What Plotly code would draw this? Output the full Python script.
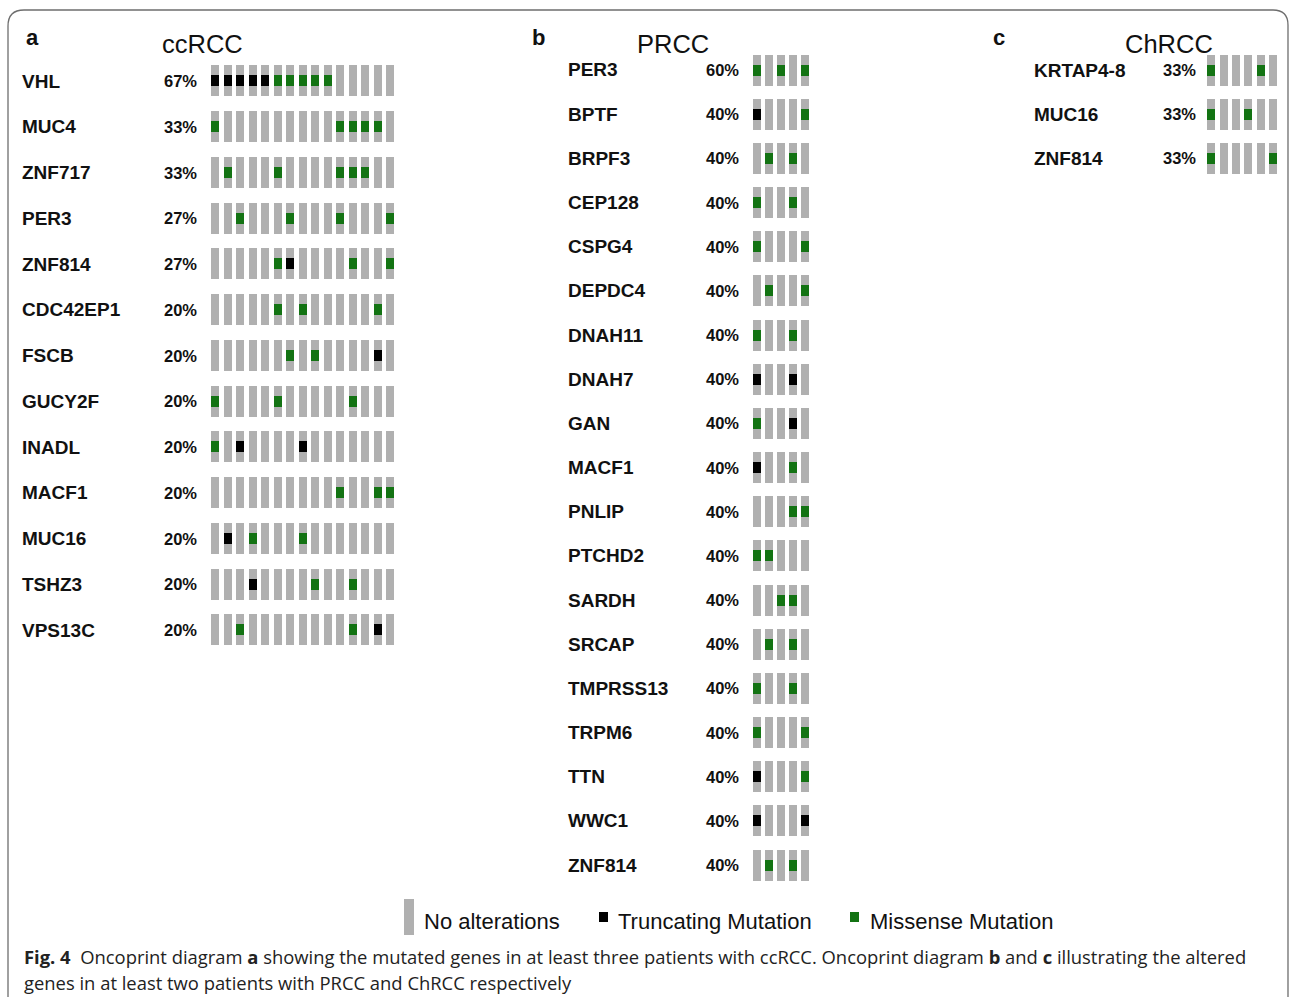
import plotly.graph_objects as go

W, H = 1289, 997

# ---- alteration codes per gene: '.' none, 'T' truncating, 'M' missense ----
cc_genes = ["VHL", "MUC4", "ZNF717", "PER3", "ZNF814", "CDC42EP1", "FSCB",
            "GUCY2F", "INADL", "MACF1", "MUC16", "TSHZ3", "VPS13C"]
cc_calls = [
    "TTTTTMMMMM.....",
    "M.........MMMM.",
    ".M...M....MMM..",
    "..M...M...M...M",
    ".....MT....M..M",
    ".....M.M.....M.",
    "......M.M....T.",
    "M....M.....M...",
    "M.T....T.......",
    "..........M..MM",
    ".T.M...M.......",
    "...T....M..M...",
    "..M........M.T.",
]

pr_genes = ["PER3", "BPTF", "BRPF3", "CEP128", "CSPG4", "DEPDC4", "DNAH11",
            "DNAH7", "GAN", "MACF1", "PNLIP", "PTCHD2", "SARDH", "SRCAP",
            "TMPRSS13", "TRPM6", "TTN", "WWC1", "ZNF814"]
pr_calls = [
    "M.M.M",
    "T...M",
    ".M.M.",
    "M..M.",
    "M...M",
    ".M..M",
    "M..M.",
    "T..T.",
    "M..T.",
    "T..M.",
    "...MM",
    "MM...",
    "..MM.",
    ".M.M.",
    "M..M.",
    "M...M",
    "T...M",
    "T...T",
    ".M.M.",
]

ch_genes = ["KRTAP4-8", "MUC16", "ZNF814"]
ch_calls = [
    "M...M.",
    "M..M..",
    "M....M",
]

panel_titles = ["ccRCC", "PRCC", "ChRCC"]
panel_letters = ["a", "b", "c"]
legend_labels = ["No alterations", "Truncating Mutation", "Missense Mutation"]

GRAY = "#b0b0b0"
BLACK = "#000000"
GREEN = "#137313"

# layout geometry of each panel, in page pixels
panels = [
    dict(genes=cc_genes, calls=cc_calls, c0=215.0, dc=12.5, r0=81.0, dr=45.75,
         gene_x=20, pct_x=199, title_x=202, letter_x=32),
    dict(genes=pr_genes, calls=pr_calls, c0=757.3, dc=12.1, r0=70.0, dr=44.17,
         gene_x=566, pct_x=741, title_x=673, letter_x=538),
    dict(genes=ch_genes, calls=ch_calls, c0=1211.0, dc=12.4, r0=70.0, dr=44.0,
         gene_x=1032, pct_x=1198, title_x=1169, letter_x=999),
]

fig = go.Figure()
annotations = []
layout_axes = {}

GENE_FONT = dict(family="Liberation Sans, Arial, sans-serif", size=19, color="#111111")
PCT_FONT = dict(family="Liberation Sans, Arial, sans-serif", size=16.5, color="#111111")

for k, p in enumerate(panels):
    n_cols = len(p["calls"][0])
    n_rows = len(p["genes"])
    suffix = "" if k == 0 else str(k + 1)
    xa, ya = "x" + suffix, "y" + suffix

    left = p["c0"] - p["dc"] / 2
    right = p["c0"] + (n_cols - 0.5) * p["dc"]
    top = p["r0"] - p["dr"] / 2
    bottom = p["r0"] + (n_rows - 0.5) * p["dr"]

    layout_axes["xaxis" + suffix] = dict(
        domain=[left / W, right / W], range=[-0.5, n_cols - 0.5],
        visible=False, fixedrange=True, anchor=ya)
    layout_axes["yaxis" + suffix] = dict(
        domain=[1 - bottom / H, 1 - top / H], range=[n_rows - 0.5, -0.5],
        visible=False, fixedrange=True, anchor=xa)

    bar_w = 8.0 / p["dc"]
    cell_h = 31.0 / p["dr"]
    mark_h = 11.0 / p["dr"]

    # background cells: one gray column per patient and gene
    gx, gbase = [], []
    for r in range(n_rows):
        for c in range(n_cols):
            gx.append(c)
            gbase.append(r - cell_h / 2)
    fig.add_trace(go.Bar(x=gx, y=[cell_h] * len(gx), base=gbase, width=bar_w,
                         marker=dict(color=GRAY, line_width=0),
                         xaxis=xa, yaxis=ya, showlegend=False, hoverinfo="skip"))

    for code, colour in (("T", BLACK), ("M", GREEN)):
        mx, mbase = [], []
        for r, s in enumerate(p["calls"]):
            for c, ch in enumerate(s):
                if ch == code:
                    mx.append(c)
                    mbase.append(r - mark_h / 2)
        if mx:
            fig.add_trace(go.Bar(x=mx, y=[mark_h] * len(mx), base=mbase, width=bar_w,
                                 marker=dict(color=colour, line_width=0),
                                 xaxis=xa, yaxis=ya, showlegend=False))

    # gene names and alteration frequencies
    for r, (g, s) in enumerate(zip(p["genes"], p["calls"])):
        altered = sum(1 for ch in s if ch != ".")
        pct = round(100 * altered / n_cols)
        annotations.append(dict(text=f"<b>{g}</b>", xref="paper", yref=ya, x=p["gene_x"] / W,
                                y=r, xanchor="left", yanchor="middle", showarrow=False,
                                font=GENE_FONT))
        annotations.append(dict(text=f"<b>{pct}%</b>", xref="paper", yref=ya, x=p["pct_x"] / W,
                                y=r, xanchor="right", yanchor="middle", showarrow=False,
                                font=PCT_FONT))

    # panel letter and title
    annotations.append(dict(text=f"<b>{panel_letters[k]}</b>", xref="paper", yref="paper",
                            x=p["letter_x"] / W, y=1 - 38 / H, xanchor="center", yanchor="middle",
                            showarrow=False,
                            font=dict(family="Liberation Sans, Arial, sans-serif", size=22, color="#111")))
    annotations.append(dict(text=panel_titles[k], xref="paper", yref="paper",
                            x=p["title_x"] / W, y=1 - 44 / H, xanchor="center", yanchor="middle",
                            showarrow=False,
                            font=dict(family="Liberation Sans, Arial, sans-serif", size=25.5, color="#111")))

# ---- legend ----
LEG_FONT = dict(family="Liberation Sans, Arial, sans-serif", size=22, color="#111")
shapes = [
    dict(type="rect", xref="paper", yref="paper", x0=404 / W, x1=414 / W,
         y0=1 - 935 / H, y1=1 - 899 / H, fillcolor=GRAY, line_width=0),
    dict(type="rect", xref="paper", yref="paper", x0=599 / W, x1=608 / W,
         y0=1 - 922 / H, y1=1 - 912 / H, fillcolor=BLACK, line_width=0),
    dict(type="rect", xref="paper", yref="paper", x0=850 / W, x1=859 / W,
         y0=1 - 922 / H, y1=1 - 912 / H, fillcolor=GREEN, line_width=0),
]
for lbl, lx in zip(legend_labels, (422, 616, 868)):
    annotations.append(dict(text=lbl, xref="paper", yref="paper", x=lx / W, y=1 - 921 / H,
                            xanchor="left", yanchor="middle", showarrow=False, font=LEG_FONT))

# ---- caption ----
CAP_FONT = dict(family="Open Sans, Noto Sans, sans-serif", size=18.4, color="#222")
cap1 = ("<b>Fig. 4</b>  Oncoprint diagram <b>a</b> showing the mutated genes in at least three "
        "patients with ccRCC. Oncoprint diagram <b>b</b> and <b>c</b> illustrating the altered")
cap2 = "genes in at least two patients with PRCC and ChRCC respectively"
annotations.append(dict(text=cap1, xref="paper", yref="paper", x=22 / W, y=1 - 956 / H,
                        xanchor="left", yanchor="middle", showarrow=False, font=CAP_FONT))
annotations.append(dict(text=cap2, xref="paper", yref="paper", x=22 / W, y=1 - 982 / H,
                        xanchor="left", yanchor="middle", showarrow=False, font=CAP_FONT))

# ---- rounded frame around the figure ----
def px(x, y):
    return f"{x / W:.5f},{1 - y / H:.5f}"

frame = (f"M {px(8, 997)} L {px(8, 26)} Q {px(8, 10)} {px(24, 10)} "
         f"L {px(1273, 10)} Q {px(1288, 10)} {px(1288, 25)} L {px(1288, 997)}")
shapes.append(dict(type="path", xref="paper", yref="paper", path=frame,
                   line=dict(color="#6e6e6e", width=1.3)))

fig.update_layout(
    width=W, height=H, margin=dict(l=0, r=0, t=0, b=0),
    paper_bgcolor="white", plot_bgcolor="rgba(0,0,0,0)",
    barmode="overlay", bargap=0, showlegend=False,
    annotations=annotations, shapes=shapes, **layout_axes,
)

fig.write_html("out.html", config={"displayModeBar": False})
